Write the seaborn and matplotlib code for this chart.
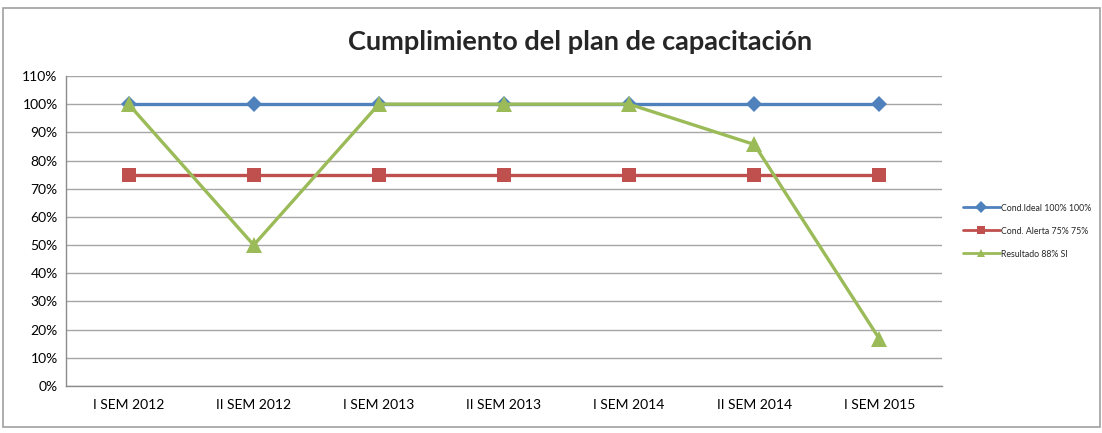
import numpy as np
import pandas as pd
import matplotlib
matplotlib.use("Agg")
import matplotlib.pyplot as plt
from matplotlib.patches import Rectangle
from matplotlib.ticker import PercentFormatter
import seaborn as sns

# data
periods = ['I SEM 2012', 'II SEM 2012', 'I SEM 2013', 'II SEM 2013',
           'I SEM 2014', 'II SEM 2014', 'I SEM 2015']
ideal = [1.0, 1.0, 1.0, 1.0, 1.0, 1.0, 1.0]
alerta = [0.75, 0.75, 0.75, 0.75, 0.75, 0.75, 0.75]
resultado = [1.0, 0.5, 1.0, 1.0, 1.0, 0.857, 0.167]
series_names = ['Cond.Ideal 100% 100%', 'Cond. Alerta 75% 75%', 'Resultado 88% SI']
colors = ['#4F81BD', '#C0504D', '#9BBB59']

df = pd.DataFrame({
    'periodo': periods * 3,
    'x': list(range(len(periods))) * 3,
    'valor': ideal + alerta + resultado,
    'serie': [series_names[0]] * 7 + [series_names[1]] * 7 + [series_names[2]] * 7,
})

sns.set_theme(style='white')
plt.rcParams['font.family'] = ['Lato', 'DejaVu Sans']

fig = plt.figure(figsize=(11.02, 4.33), dpi=100)
ax = fig.add_axes([0.0599, 0.1085, 0.7949, 0.716])

sns.lineplot(data=df, x='x', y='valor', hue='serie', style='serie',
             palette=colors, markers=['D', 's', '^'], dashes=False,
             linewidth=2.4, markersize=8, markeredgewidth=0, ax=ax)

ax.set_xlim(-0.5, 6.5)
ax.set_ylim(0, 1.1)
ax.set_yticks(np.arange(0, 1.11, 0.1))
ax.yaxis.set_major_formatter(PercentFormatter(1.0, decimals=0))
ax.set_xticks(range(len(periods)))
ax.set_xticklabels(periods)
ax.set_xlabel('')
ax.set_ylabel('')
ax.tick_params(axis='both', length=0, labelsize=10, colors='#000000')
ax.tick_params(axis='x', pad=9)
ax.tick_params(axis='y', pad=6)
ax.grid(axis='y', color='#A6A6A6', linewidth=1)
ax.set_axisbelow(True)
for side in ['top', 'right']:
    ax.spines[side].set_visible(False)
for side in ['left', 'bottom']:
    ax.spines[side].set_color('#8C8C8C')
    ax.spines[side].set_linewidth(1)

# enlarge squares and triangles a bit
for line, ms in zip(ax.get_lines()[:3], [8, 10, 11]):
    line.set_markersize(ms)

leg = ax.legend(loc='center left', bbox_to_anchor=(1.015, 0.5), frameon=False,
                fontsize=6.3, handlelength=4.2, handletextpad=0.1, labelspacing=1.6)
for h in leg.legend_handles:
    h.set_linewidth(2)
    h.set_markersize(6)

fig.text(580 / 1102, 1 - 42 / 433, 'Cumplimiento del plan de capacitación',
         ha='center', va='center', fontsize=19.5, fontweight='bold')

fig.patches.append(Rectangle((3 / 1102, 6 / 433), 1097 / 1102, 419 / 433,
                             transform=fig.transFigure, fill=False,
                             edgecolor='#A0A0A0', linewidth=1.2))

fig.savefig('out.png', dpi=100)
